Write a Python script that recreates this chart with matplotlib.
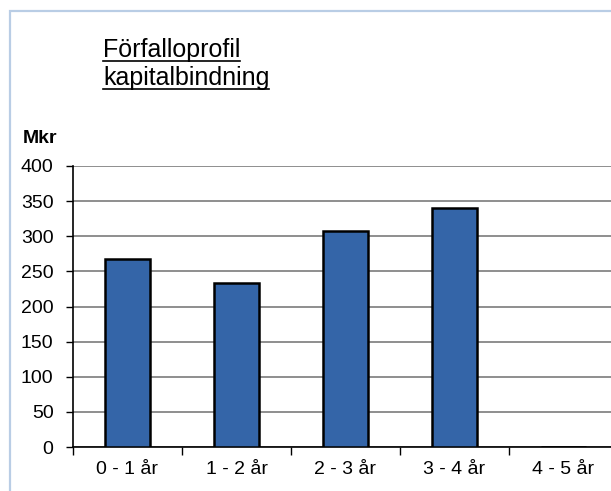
import matplotlib
matplotlib.use('Agg')
from matplotlib import pyplot as plt
from matplotlib.patches import Rectangle
from matplotlib.lines import Line2D

categories = ['0 - 1 år', '1 - 2 år', '2 - 3 år', '3 - 4 år', '4 - 5 år']
values = [268, 234, 307, 340, 0]
y_ticks = [0, 50, 100, 150, 200, 250, 300, 350, 400]

W, H = 611, 491
plt.rcParams['font.family'] = ['Liberation Sans', 'DejaVu Sans']

fig = plt.figure(figsize=(W / 100, H / 100), dpi=100)

# light blue frame round the chart (cut off on the right and bottom)
fig.patches.append(Rectangle((10 / W, -0.1), 1.2, 1 - 11 / H + 0.1,
                             transform=fig.transFigure, fill=False,
                             edgecolor='#b9cde5', linewidth=1.6))

# plot area, right edge runs past the picture
left, right, top, bottom = 73, 618, 166, 447
ax = fig.add_axes([left / W, 1 - bottom / H, (right - left) / W, (bottom - top) / H])

x = list(range(len(categories)))
ax.bar(x, values, width=0.41, color='#3465a8', edgecolor='black',
       linewidth=1.8, zorder=3)

ax.set_xlim(-0.5, len(categories) - 0.5)
ax.set_ylim(0, 400)
ax.set_yticks(y_ticks)
ax.set_yticklabels([str(v) for v in y_ticks], fontsize=14)
ax.yaxis.grid(True, color='#707070', linewidth=1.1, zorder=0)
ax.tick_params(axis='y', length=5, width=1, color='black', pad=9)

# category ticks sit between the bars
ax.set_xticks([i - 0.5 for i in x], minor=False)
ax.set_xticklabels([])
ax.set_xticks(x, minor=True)
ax.set_xticklabels(categories, minor=True, fontsize=14)
ax.tick_params(axis='x', which='major', length=6, width=1, color='black')
ax.tick_params(axis='x', which='minor', length=0, pad=10)

for s in ['top', 'right']:
    ax.spines[s].set_visible(False)
ax.spines['left'].set_color('black')
ax.spines['bottom'].set_color('black')
ax.spines['left'].set_linewidth(1.2)
ax.spines['bottom'].set_linewidth(1.2)

fig.text(23 / W, 1 - 143 / H, 'Mkr', fontsize=14, fontweight='bold', va='baseline')

# underlined title
t1 = fig.text(103 / W, 1 - 57 / H, 'Förfalloprofil', fontsize=18, va='baseline')
t2 = fig.text(103 / W, 1 - 85 / H, 'kapitalbindning', fontsize=18, va='baseline')
fig.canvas.draw()
r = fig.canvas.get_renderer()
for t, yu in [(t1, 60.5), (t2, 89)]:
    bb = t.get_window_extent(r)
    yl = 1 - yu / H
    fig.add_artist(Line2D([bb.x0 / W, bb.x1 / W], [yl, yl], color='black',
                          linewidth=1.2, transform=fig.transFigure))

fig.savefig('out.png', dpi=100)
